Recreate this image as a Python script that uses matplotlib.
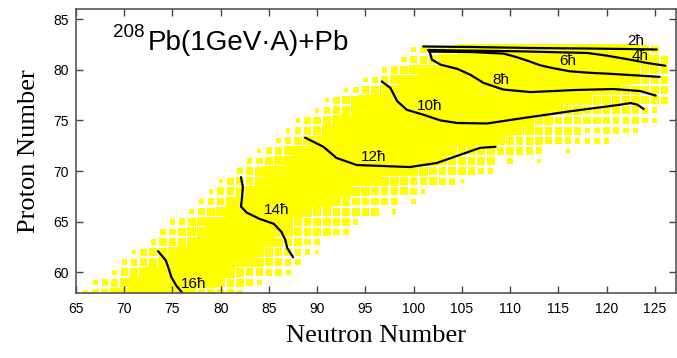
import numpy as np
import matplotlib.pyplot as plt
from matplotlib.patches import Rectangle
from matplotlib.collections import PatchCollection

# fragment yields: one row per proton number, box size codes 0-9 (9 = full cell)
Z_rows = list(range(58, 83))
N_first = [66, 67, 69, 70, 71, 73, 74, 75, 77, 78, 79, 80, 82,
           83, 84, 86, 87, 88, 90, 91, 93, 95, 97, 99, 100]
edge_left = ["567", "5678", "578", "5678", "4678", "5778", "5678", "5678",
             "5678", "4678", "4778", "46778", "678", "5678", "4678", "4678",
             "4678", "4678", "4678", "4678", "4678", "4678", "5778", "5678",
             "57777"]
core_len = [8, 9, 10, 10, 10, 9, 10, 9, 9, 10, 11, 12, 15, 16, 17, 19,
            20, 21, 22, 24, 25, 24, 23, 22, 19]
edge_right = ["877665", "87765", "877665", "87765", "877654", "87765",
              "877765", "8777775", "887777704", "887777604", "88777764",
              "887777664", "887777765", "87777705004", "887777776004",
              "877776665555", "8877777556655", "8877777766655", "8877777765",
              "88888776", "88777", "8877", "887", "87", "87"]

# mean angular momentum contours (N, Z)
spin_labels = ["2ħ", "4ħ", "6ħ", "8ħ", "10ħ", "12ħ", "14ħ", "16ħ"]
contour_N = [
    [101.0, 106.0, 112.0, 118.0, 122.0, 125.2],
    [101.5, 105.0, 109.0, 111.0, 114.0, 118.0, 120.0, 121.4, 123.0, 124.2, 126.1],
    [101.6, 106.0, 109.3, 110.5, 111.8, 113.1, 114.5, 116.2, 118.3, 120.4, 123.0, 125.5],
    [101.7, 101.9, 102.8, 104.5, 105.9, 107.25, 109.3, 112.1, 114.5, 116.6, 120.7, 123.5, 125.1],
    [96.7, 97.6, 98.3, 99.3, 101.05, 102.8, 104.5, 107.6, 111.1, 116.2, 121.4, 122.5, 123.2, 123.85],
    [88.75, 90.65, 92.0, 94.1, 96.9, 99.6, 102.4, 104.8, 106.9, 108.5],
    [82.1, 82.3, 82.2, 82.1, 82.7, 84.0, 85.5, 86.3, 86.7, 86.9, 87.5],
    [73.5, 74.3, 74.6, 74.9, 75.4, 76.0],
]
contour_Z = [
    [82.3, 82.25, 82.15, 82.1, 82.05, 82.0],
    [81.95, 81.9, 81.85, 81.82, 81.75, 81.66, 81.4, 81.17, 80.9, 80.67, 80.4],
    [81.8, 81.75, 81.6, 81.3, 80.9, 80.45, 80.15, 79.85, 79.7, 79.6, 79.45, 79.3],
    [81.65, 81.0, 80.5, 80.1, 79.5, 78.7, 78.05, 77.8, 77.9, 78.0, 78.1, 77.9, 77.45],
    [78.85, 78.2, 76.9, 76.05, 75.55, 75.0, 74.75, 74.7, 75.2, 75.9, 76.55, 76.72, 76.55, 76.13],
    [73.3, 72.4, 71.3, 70.6, 70.5, 70.4, 70.8, 71.6, 72.3, 72.4],
    [69.4, 68.4, 67.3, 66.5, 65.9, 65.3, 64.8, 64.0, 63.2, 62.4, 61.5],
    [62.1, 61.2, 60.4, 59.5, 58.7, 58.0],
]
label_N = [123.0, 123.5, 116.0, 109.0, 101.7, 95.9, 85.8, 77.2]
label_Z = [82.8, 81.35, 80.85, 79.0, 76.4, 71.4, 66.2, 58.9]

fig = plt.figure(figsize=(6.77, 3.58), dpi=100)
ax = fig.add_axes([0.1123, 0.1824, 0.8862, 0.7925])

boxes = []
for z, n0, left, core, right in zip(Z_rows, N_first, edge_left, core_len, edge_right):
    codes = left + "9" * core + right
    for i, c in enumerate(codes):
        if c == "0":
            continue
        s = 1.02 if c == "9" else int(c) / 9
        boxes.append(Rectangle((n0 + i - s / 2, z - s / 2), s, s))
ax.add_collection(PatchCollection(boxes, facecolor="#ffff00", edgecolor="none", linewidth=0))

for xs, ys in zip(contour_N, contour_Z):
    ax.plot(xs, ys, color="black", lw=1.6, solid_capstyle="round")
for lab, x, y in zip(spin_labels, label_N, label_Z):
    ax.text(x, y, lab, fontsize=11, family="Liberation Sans", ha="center", va="center")

ax.text(0.0617, 0.903, "208", transform=ax.transAxes, fontsize=13.5, family="Liberation Sans")
ax.text(0.12, 0.8555, "Pb(1GeV·A)+Pb", transform=ax.transAxes, fontsize=20, family="Liberation Sans")

ax.set_xlim(65, 127.2)
ax.set_ylim(58, 86)
ax.set_xticks(np.arange(65, 126, 5))
ax.set_yticks(np.arange(60, 86, 5))
ax.tick_params(direction="in", length=5, width=1, top=True, right=True,
               labelsize=10, color="#444444")
ax.tick_params(axis="x", pad=7)
ax.tick_params(axis="y", pad=5)
for lab in ax.get_xticklabels() + ax.get_yticklabels():
    lab.set_family("Liberation Sans")
for sp in ax.spines.values():
    sp.set_color("#555555")
    sp.set_linewidth(1.2)

ax.set_xlabel("Neutron Number", family="Liberation Serif", fontsize=19, labelpad=6)
ax.set_ylabel("Proton Number", family="Liberation Serif", fontsize=19, labelpad=10)

fig.savefig("out.png", dpi=100)
